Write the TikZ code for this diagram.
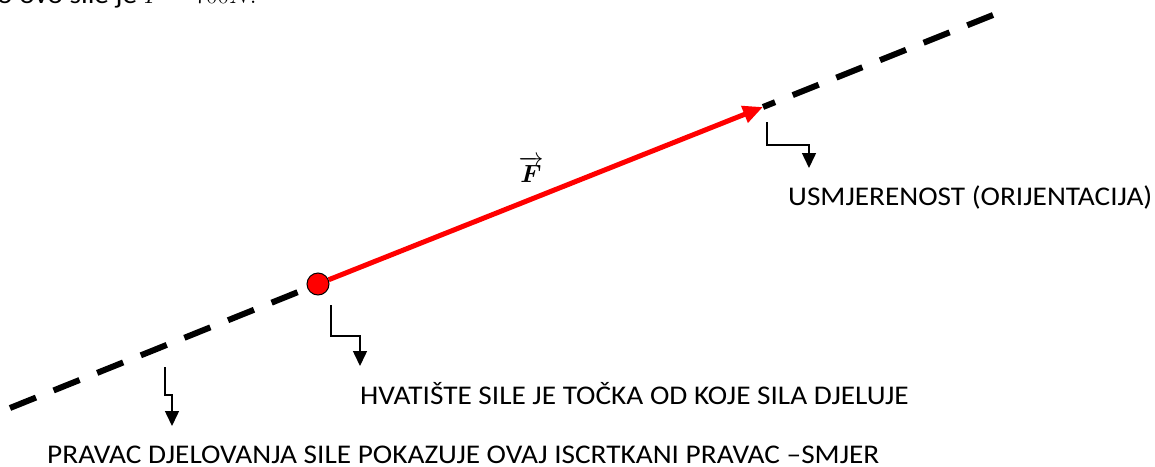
\documentclass[tikz,border=0pt]{standalone}
\usepackage{fontspec}
\setmainfont{Carlito}[FakeStretch=1.085]
\usepackage{bm}
\usetikzlibrary{arrows.meta}
\tikzset{
  dashline/.style={line width=6pt, black, dash pattern=on 28pt off 19pt},
  callout/.style={line width=1.5pt, black, -{Triangle[length=15pt,width=14pt]}},
  force/.style={line width=5pt, red, -{Triangle[length=20pt,width=17pt]}},
  lbl/.style={anchor=base west, inner sep=0pt, font=\fontsize{27}{32}\selectfont},
}
\begin{document}
\begin{tikzpicture}[x=1pt,y=-1pt]
\useasboundingbox (0,0) rectangle (1155,466);
\clip (0,0) rectangle (1155,466);
% cut-off text at the top
\node[lbl] (top) at (-3,3) {o ovo sile je \(F = 700N.\)};
% line of action
\coordinate (A) at (10,408);
\coordinate (B) at (993,15);
\coordinate (T) at (763,107);
\node[circle, fill=red, draw=black, line width=1pt, minimum size=22pt, inner sep=0pt] (P) at (318,284) {};
\draw[dashline] (A) -- (P);
\draw[dashline, dash phase=15pt] (T) -- (B);
\draw[force] (P) -- (T);
\node[inner sep=0pt, anchor=base] (F) at (531,182) {\fontsize{31}{34}\selectfont$\overrightarrow{\bm{F}}$};
% callouts
\coordinate (h1s) at (331,305); \coordinate (h1k) at (360,336); \coordinate (h1e) at (360,366);
\draw[callout] (h1s) |- (h1k) -- (h1e);
\coordinate (h2s) at (767,122); \coordinate (h2k) at (809,145); \coordinate (h2e) at (809,168);
\draw[callout] (h2s) |- (h2k) -- (h2e);
\coordinate (h3s) at (165,367); \coordinate (h3k) at (172,395); \coordinate (h3e) at (172,426);
\draw[callout] (h3s) |- (h3k) -- (h3e);
% labels
\node[lbl] (l1) at (360,404) {HVATIŠTE SILE JE TOČKA OD KOJE SILA DJELUJE};
\node[lbl] (l2) at (788,205) {USMJERENOST (ORIJENTACIJA)};
\node[lbl] (l3) at (47,463) {PRAVAC DJELOVANJA SILE POKAZUJE OVAJ ISCRTKANI PRAVAC –SMJER};
\end{tikzpicture}
\end{document}
